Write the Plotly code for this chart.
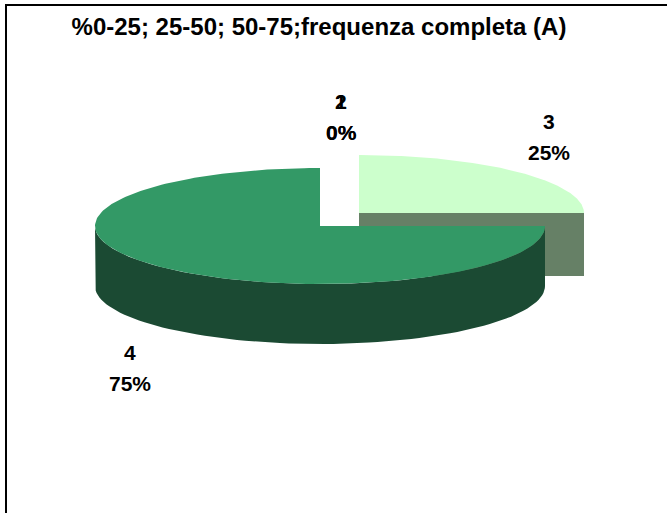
import numpy as np
import plotly.graph_objects as go

# ---- data ----
labels = ["1", "2", "3", "4"]
values = [0, 0, 25, 75]
explode = [0, 0, 1, 0]

# ---- style ----
top_colors = ["#339966", "#339966", "#CCFFCC", "#339966"]
side_colors = ["#1B4A33", "#1B4A33", "#668066", "#1B4A33"]
W, H = 667, 513
cx, cy = 320, 226          # pie centre (px)
rx, ry = 225, 58           # ellipse radii
depth = 60                 # 3D thickness
ex_dx, ex_dy = 39, -13     # explode offset

total = sum(values)
fig = go.Figure()

def ell(th, ox, oy, dz=0):
    return ox + rx * np.sin(th), oy - ry * np.cos(th) + dz

start = 0.0
slices = []
for lab, v, e, tc, sc in zip(labels, values, explode, top_colors, side_colors):
    a0 = start
    a1 = start + 2 * np.pi * v / total
    start = a1
    if v == 0:
        continue
    ox = cx + (ex_dx if e else 0)
    oy = cy + (ex_dy if e else 0)
    slices.append((a0, a1, ox, oy, tc, sc, e))

slices.sort(key=lambda s: -s[6])
for a0, a1, ox, oy, tc, sc, e in slices:
    lo, hi = max(a0, np.pi / 2), min(a1, 3 * np.pi / 2)
    if hi > lo:
        th = np.linspace(lo, hi, 80)
        x1, y1 = ell(th, ox, oy)
        x2, y2 = ell(th[::-1], ox, oy, depth)
        fig.add_trace(go.Scatter(x=np.r_[x1, x2], y=np.r_[y1, y2], fill="toself",
                                 fillcolor=sc, line=dict(width=0), mode="lines",
                                 hoverinfo="skip", showlegend=False))
    if e:
        xe, ye = ell(np.array([a1]), ox, oy)
        fig.add_trace(go.Scatter(x=[ox, xe[0], xe[0], ox], y=[oy, ye[0], ye[0] + depth + 3, oy + depth + 3],
                                 fill="toself", fillcolor=sc, line=dict(width=0), mode="lines",
                                 hoverinfo="skip", showlegend=False))
    th = np.linspace(a0, a1, 200)
    xt, yt = ell(th, ox, oy)
    fig.add_trace(go.Scatter(x=np.r_[ox, xt, ox], y=np.r_[oy, yt, oy], fill="toself",
                             fillcolor=tc, line=dict(width=0), mode="lines",
                             hoverinfo="skip", showlegend=False))

# labels (name line, percent line)
lab_pos = {"1": (341, 101), "2": (341, 101), "3": (549, 121), "4": (130, 352)}
for lab, v in zip(labels, values):
    x, y = lab_pos[lab]
    fig.add_annotation(x=x, y=y, xref="x", yref="y", showarrow=False,
                       text=f"<b>{lab}</b>",
                       font=dict(family="Liberation Sans", size=21, color="black"))
    fig.add_annotation(x=x, y=y + 31, xref="x", yref="y", showarrow=False,
                       text=f"<b>{round(100 * v / total)}%</b>",
                       font=dict(family="Liberation Sans", size=21, color="black"))

fig.update_layout(
    width=W, height=H,
    margin=dict(l=0, r=0, t=0, b=0),
    paper_bgcolor="white", plot_bgcolor="white",
    xaxis=dict(range=[0, W], visible=False, fixedrange=True),
    yaxis=dict(range=[H, 0], visible=False, fixedrange=True),
    title=dict(text="<b>%0-25; 25-50; 50-75;frequenza completa (A)</b>",
               x=319 / W, xanchor="center", y=1 - 27 / H, yanchor="middle",
               font=dict(family="Liberation Sans", size=24, color="black")),
    shapes=[dict(type="rect", xref="paper", yref="paper", x0=6 / W, x1=1.02, y0=-0.02, y1=1 - 5 / H,
                 line=dict(color="black", width=2))],
)
fig.write_html("out.html", config={"displayModeBar": False},
               post_script="document.body.style.margin='0';")
